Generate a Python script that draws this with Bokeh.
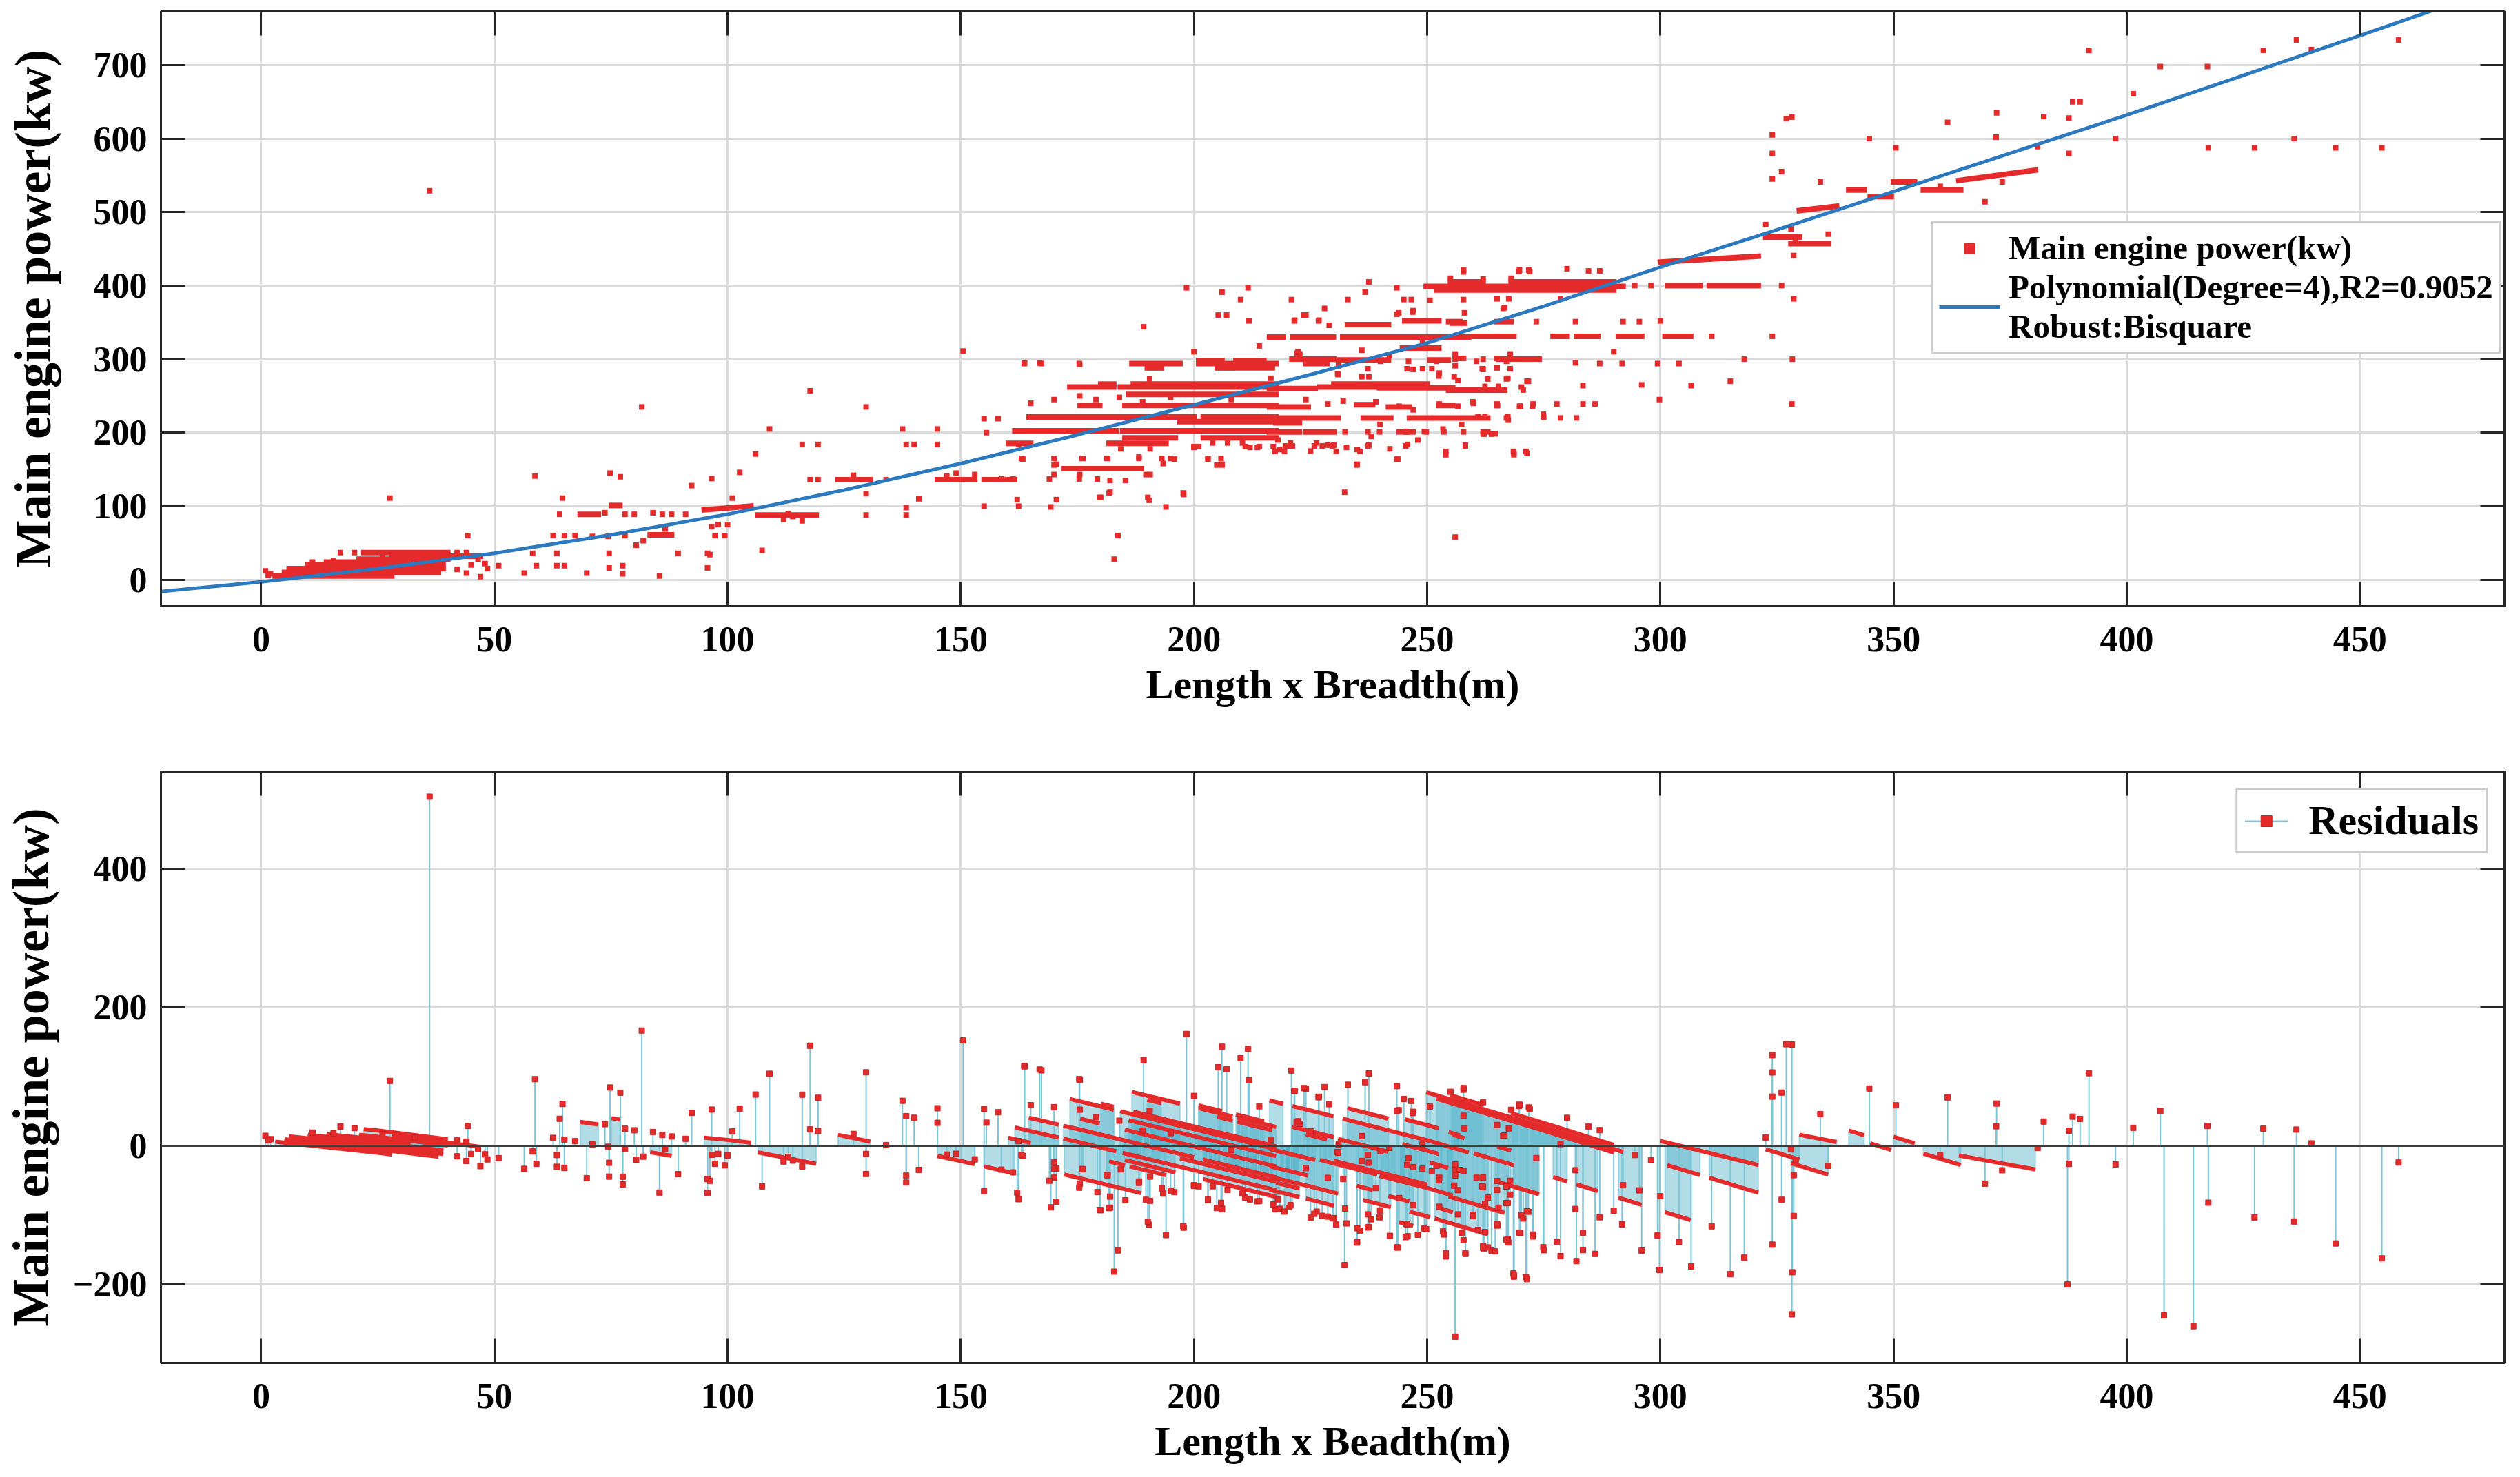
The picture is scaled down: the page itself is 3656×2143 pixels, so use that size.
import numpy as np
from bokeh.plotting import figure
from bokeh.models import (LinearAxis, Legend, LegendItem, Span, FixedTicker, Range1d,
                          CustomLabelingPolicy)
from bokeh.layouts import column
from bokeh.embed import file_html
from bokeh.resources import INLINE

# ---------------- data ----------------
x_ticks = [0, 50, 100, 150, 200, 250, 300, 350, 400, 450]
top_y_ticks = [0, 100, 200, 300, 400, 500, 600, 700]
bot_y_ticks = [-200, 0, 200, 400]

# robust polynomial fit curve
fit_x = [-21.5, 0, 25, 50, 75, 100, 125, 150, 175, 200, 225, 250, 275, 300, 325, 350, 375, 400, 425, 450, 475]
fit_y = [-16, -3, 15, 36, 61, 89, 122, 158, 197, 238, 279, 322, 372, 425, 476, 528, 580, 632, 686, 740, 795]

# individual points, by region
a_x = [0.9, 2.0, 27.6, 36.1, 44.3, 17.0, 20.0, 42.0, 44.0, 46.5, 45.0, 42.0, 44.0, 47.0, 48.5, 48.0, 1.5, 11, 15.5, 26, 33]
a_y = [12, 8, 111, 529, 60, 37, 37, 37, 37, 28, 20, 14, 9, 4, 15, 22, 6, 24, 26, 33, 34]

b_x = [50.9, 56.4, 58.2, 59, 63.4, 63.4, 65, 69.8, 74.6, 74.6, 77.5, 77.5, 85.4, 89.4, 95.7, 95.7,
       58.7, 64.6, 64, 73.7, 74.8, 77, 78, 80, 84, 86, 88, 91, 92.3, 96.6, 102.6, 101,
       62.6, 65, 67.3, 71, 74.4, 78, 86.6, 80.4, 81.9, 96.6, 98, 100, 97.3, 99.4, 106, 107.4, 81.6, 96.2]
b_y = [19, 9, 36, 19, 36, 19, 19, 9, 36, 16, 8, 19, 5, 36, 36, 16,
       141, 111, 89, 91, 145, 140, 89, 89, 91, 89, 89, 89, 128, 137.5, 146, 111,
       60, 60, 60, 59, 59, 60, 69, 47, 53, 72, 75, 75, 60, 60, 171, 40, 235, 34]

c_x = [109, 116, 119.4, 117.7, 117.7, 119.4, 129.7, 129.7, 129.7, 134, 137.5, 138.3, 140, 138.3, 138.3,
       141, 145, 145, 150.5, 155, 162.4, 155, 158, 155.5, 162.4, 112, 114, 116, 113, 147, 149, 153, 127]
c_y = [205, 184, 184, 257, 136, 136, 235, 117, 88, 136, 205, 184, 184, 98, 88,
       110, 184, 205, 311, 100, 100, 219, 219, 200, 184, 82, 86, 80, 90, 141, 145, 143, 142]

d_x = [257.8, 255, 262, 268, 237.5, 236.7, 243.5, 198.4, 206, 211.6,
       210, 220.9, 228, 233, 245, 246.6, 250.6, 205.2, 207, 211.8,
       221.5, 224, 226.7, 229, 243.9, 247, 189.2, 163.7, 166.9, 175.5,
       225, 231, 240, 246, 247, 252, 256, 262, 267, 190.5,
       216.5, 230.8, 255.8, 256.6, 163.3, 170.5, 176, 181.5, 188.2, 193.4,
       195.8, 203, 206, 235, 243.5, 254, 268.6, 175.5, 182, 185.3,
       190.6, 169.3, 182, 180, 190.4, 194, 197.8, 232.3, 183.7, 182.9,
       212, 218, 225, 230, 238, 242, 248, 165, 170, 200,
       214, 222, 236, 249, 195, 208, 232]
d_y = [418.6, 410, 409, 410, 405, 391, 397, 397, 391, 397,
       381, 381, 369, 381, 381, 381, 380, 360, 360, 352,
       352, 360, 352, 346, 363, 366, 344, 294.6, 294.6, 293,
       300, 291, 297, 297, 286, 297, 300, 286, 297, 273,
       274, 280, 276, 271, 164, 157, 165, 165, 167, 158,
       164, 164, 157, 157, 164, 170, 170, 143, 135, 135,
       143, 99, 119, 112, 108, 99, 116, 119, 60, 28,
       180, 190, 175, 183, 195, 178, 190, 240, 245, 310,
       318, 308, 312, 322, 248, 245, 243]

g_x = [222.7, 241.9, 260.6, 251, 263, 267, 237.5, 252.6,
       239, 244, 252.6, 256.6, 259.8, 265, 228.7, 224, 247,
       239.9, 245.5, 249.4, 253.4, 257.4, 262.2, 263.8, 267.4,
       200, 204, 207.2, 210.4, 213.6, 218.4, 220.7, 226.3, 228.7, 232.7, 235, 237.5, 245.8,
       175.5, 179, 184, 189]
g_y = [307, 305, 297, 287, 273, 273, 276, 281,
       242, 236, 239, 236, 242, 237, 239, 245, 231,
       211, 201.5, 201.5, 205, 211, 198, 198, 217,
       180, 186, 186, 186, 180, 177, 186, 186, 183, 180, 177, 183, 184,
       250, 245, 248, 242]

h_x = [223.6, 221.6, 226.8, 243.5, 246.9, 258, 266.3, 269.7, 272,
       222.3, 237.3, 245.7, 249, 261.9, 267.8, 230.9, 236, 252.5, 267.3,
       243.7, 234.9, 235.6, 254, 268.5, 271.2, 217.4, 219.4, 230.5,
       225.8, 227.5, 229.7, 237.3, 245.4, 258.2,
       232.4, 237.3, 239.8, 245.7, 249.8, 253.6, 257.8, 262, 263,
       260.9, 262.4, 267.3, 274.9,
       259.9, 265.1, 270, 272.7,
       262.4, 265.3, 270.2, 271.7,
       256, 257, 262]
h_y = [360, 353, 353, 361, 364, 363, 369, 419, 419,
       310, 287, 287, 287, 287, 287, 279, 276, 277, 274,
       164, 156, 174.6, 174.6, 174.6, 174.6, 174.6, 174.6, 174.6,
       182, 182, 182, 182, 182, 182,
       201, 201, 201, 201, 201, 201, 201, 201, 201,
       222, 222, 222, 225,
       240, 237, 236, 239,
       263, 263, 262, 270,
       291, 301, 300]

k_x = [163, 170, 176.2, 181.3, 188.2, 193.1, 195, 203, 205.8,
       170, 204.9, 206, 170, 189.7,
       158.7, 161.2, 169, 175.4, 179.3,
       181.8, 197.7, 179.8, 190.1, 162.1, 170.5,
       184.3, 190.6, 200, 201, 211, 214, 217,
       163.6, 167.3, 175.4]
k_y = [165, 165, 165, 165, 165, 165, 165, 165, 165,
       156, 156, 156, 143, 143,
       137, 137, 137, 137, 137,
       118, 118, 112, 112, 109, 109,
       178, 178, 181, 181, 181, 181, 181,
       294, 294, 294]

e_x = [257.8, 269.8, 271.8, 280, 284.6, 287, 326, 328.6, 257.8, 265,
       267.5, 266.6, 278.6, 273.4, 281.8, 292, 295.5, 300, 256, 257.8,
       265, 267.8, 261.8, 265, 281.8, 287, 291.8, 299.4, 304, 328.3,
       271.4, 270.6, 283.4, 306.6, 299.8, 283.4, 286, 277.8, 265, 269.8,
       272.6, 267, 275, 278.6, 282, 262, 264.6, 258.2, 268.6, 271.4,
       256, 294.5, 298, 322.6, 328.6, 328.2, 328.2, 324, 327, 324,
       324, 326, 328, 329, 324, 311, 318, 315, 290, 296]
e_y = [421, 421, 421, 423, 420, 420, 400, 382, 381, 382,
       382, 370, 382, 351, 351, 351, 351, 352, 307, 301,
       301, 307, 287, 288, 295, 294, 294, 294, 294, 300,
       270, 258, 264, 264, 245, 239, 239, 239, 239, 236,
       236, 220, 221, 220, 220, 198.5, 198.5, 183, 172, 172,
       58, 400, 400, 483, 441, 629, 239, 605, 627, 580,
       545, 555, 477, 464, 331, 331, 300, 270, 310, 265]

f_x = [334.3, 344.8, 350.5, 361.6, 372.1, 372, 373.3, 369.6, 380.9, 382.2,
       387.6, 387.6, 388.4, 390, 391.9, 397.6, 401.4, 407.2, 417.3, 417.5,
       427.4, 429.3, 435.9, 436.4, 439.6, 444.8, 454.7, 458.3, 387.3, 408,
       414.3, 336, 360]
f_y = [541, 600, 587.5, 622, 635, 602, 541, 514, 589, 630,
       628, 580, 650, 650, 720, 600, 661, 698, 698, 587.5,
       587.5, 720, 600, 734, 721, 587.5, 587.5, 734, 405, 404,
       402, 470, 535]

# runs of points that merge into streaks (start x, end x, start y, end y)
low_x0 = [3, 5, 6, 10, 14, 21, 22, 28]
low_x1 = [28, 38, 39, 39, 32, 40, 40, 47]
low_y = [5, 10, 15, 20, 24, 28, 37, 32]

mid_x0 = [68.4, 75.1, 83.4, 95, 106.5, 123.7, 145, 155]
mid_x1 = [72.3, 76.9, 88, 105, 119, 130.6, 153, 161.5]
mid_y0 = [89, 101, 61, 95, 88, 136, 136, 136]
mid_y1 = [89, 101, 61, 100, 88, 136, 136, 136]

g1_x0 = [186.7, 201, 209.3, 201, 209, 190, 205, 209.3, 173.4, 184.2, 180, 187, 186,
         175.6, 185.2, 164.6, 172, 202, 197, 161.6, 172, 184.7, 185.2, 202, 160.2, 181.8, 186.2, 172.2]
g1_x1 = [197, 208.3, 217.6, 206, 215, 193, 208.3, 216.8, 182.8, 217.6, 182.8, 217.6, 217.6,
         179.8, 217.6, 171, 200, 217.6, 217.6, 171, 183.3, 217.6, 196, 217.6, 165, 185.2, 194, 188.7]
g1_y = [294, 294, 294, 298, 298, 288, 288, 288, 262, 262, 266, 266, 252,
        237, 237, 221.3, 221.3, 221.3, 215, 202.6, 202.6, 202.6, 193, 193, 185.5, 185.5, 185.5, 151]

g2_x0 = [249.8, 252, 255, 268, 232.9, 245.2, 255.5, 216.2, 221.1, 231.9, 260, 244.7,
         221, 230.9, 250.6, 265.3, 224, 216.2, 227, 239.8, 230, 254.6,
         216.2, 234.9, 241.7, 252.5, 216.2, 217.6, 236.3, 246.2, 251.6, 216.2, 224, 244, 219.6]
g2_x1 = [292, 290, 262, 290, 241.7, 252.5, 258, 219.1, 229.9, 258.9, 268.6, 252.5,
         230, 241.7, 254.5, 273.7, 228.5, 226, 239.3, 255.5, 250, 266.6,
         224.5, 238.3, 246.2, 255.5, 230.9, 222.6, 242.2, 250.6, 263, 222.6, 230, 247, 221.1]
g2_y = [399, 394, 405, 405, 347, 352, 349, 330, 330, 330, 331, 315,
        300, 299, 299, 300, 294, 260, 262, 261, 266, 258,
        235, 238, 235, 237, 220, 213.4, 220, 220, 220, 201, 201, 201, 182]

g3_x0 = [277, 282, 291, 301, 254.6, 265, 268.6, 301.5, 310.5]
g3_x1 = [280, 286.6, 296, 306.5, 257, 268, 274, 308.5, 321]
g3_y = [331, 331, 331, 331, 351, 351, 300, 400, 400]

up_x0 = [300, 322.6, 328, 329.8, 340.4, 345, 350, 356.4, 364]
up_x1 = [321, 329.8, 336, 337.8, 343.7, 349.5, 354.5, 364.4, 380.4]
up_y0 = [432, 466, 457, 502, 530, 521, 541, 530, 543]
up_y1 = [440, 466, 457, 508, 530, 521, 541, 530, 557]

# ---------------- helpers ----------------
power_x = np.array(a_x + b_x + c_x + d_x + g_x + h_x + k_x + e_x + f_x, dtype=float)
power_y = np.array(a_y + b_y + c_y + d_y + g_y + h_y + k_y + e_y + f_y, dtype=float)

streak_x0 = low_x0 + mid_x0 + g1_x0 + g2_x0 + g3_x0 + up_x0
streak_x1 = low_x1 + mid_x1 + g1_x1 + g2_x1 + g3_x1 + up_x1
streak_y0 = low_y + mid_y0 + g1_y + g2_y + g3_y + up_y0
streak_y1 = low_y + mid_y1 + g1_y + g2_y + g3_y + up_y1


def fit_at(x):
    return np.interp(x, fit_x, fit_y)


FONT = "Liberation Serif"
RED = "#E42A2A"
DOTLINE = "#C42323"
BLUE = "#2C79BF"
STEM = "#7CC6D8"
FILL = "#55B3C9"
DARK = "#262626"
GRID = "#DADADA"
X_RANGE = (-21.5, 481)


def style_axis(ax, ticks, labels=True, horizontal=True):
    ax.ticker = FixedTicker(ticks=ticks)
    ax.major_tick_in = 35
    ax.major_tick_out = 0
    ax.minor_tick_line_color = None
    ax.major_tick_line_color = DARK
    ax.major_tick_line_width = 3
    ax.axis_line_color = DARK
    ax.axis_line_width = 3
    ax.major_label_text_font = FONT
    ax.major_label_text_font_style = "bold"
    ax.major_label_text_color = "black"
    if labels:
        ax.major_label_text_font_size = "52px"
        ax.major_label_standoff = 30 if horizontal else 20
    else:
        ax.major_label_text_font_size = "2px"
        ax.major_label_standoff = 0
        ax.major_label_text_color = None
        ax.major_label_policy = CustomLabelingPolicy(code="return []")
    ax.axis_label_text_font = FONT
    ax.axis_label_text_font_style = "bold"
    ax.axis_label_text_color = "black"


def make_fig(height, yr, yticks, xlabel, top_border, bottom_border, ylab_standoff):
    p = figure(width=3656, height=height, x_range=Range1d(*X_RANGE), y_range=Range1d(*yr),
               output_backend="svg", toolbar_location=None,
               min_border_left=226, min_border_right=23,
               min_border_top=top_border, min_border_bottom=bottom_border)
    p.background_fill_color = "white"
    p.border_fill_color = "white"
    p.outline_line_color = DARK
    p.outline_line_width = 3
    style_axis(p.xaxis[0], x_ticks)
    style_axis(p.yaxis[0], yticks, horizontal=False)
    p.xaxis[0].axis_label = xlabel
    p.xaxis[0].axis_label_text_font_size = "60px"
    p.xaxis[0].axis_label_standoff = 12
    p.yaxis[0].axis_label = "Main engine power(kw)"
    p.yaxis[0].axis_label_text_font_size = "74px"
    p.yaxis[0].axis_label_standoff = ylab_standoff
    top = LinearAxis()
    style_axis(top, x_ticks, labels=False)
    p.add_layout(top, "above")
    right = LinearAxis()
    style_axis(right, yticks, labels=False)
    p.add_layout(right, "right")
    p.xgrid.ticker = FixedTicker(ticks=x_ticks)
    p.ygrid.ticker = FixedTicker(ticks=yticks)
    for g in (p.xgrid[0], p.ygrid[0]):
        g.grid_line_color = GRID
        g.grid_line_width = 3
    return p


# ---------------- top panel ----------------
p1 = make_fig(1100, (-36, 773), top_y_ticks, "Length x Breadth(m)", 16, 221, 44)
p1.segment(x0=streak_x0, y0=streak_y0, x1=streak_x1, y1=streak_y1,
           line_color=RED, line_width=8, line_cap="square")
pts = p1.scatter(power_x, power_y, marker="square", size=8, fill_color=RED, line_color=None)
fit_r = p1.line(fit_x, fit_y, line_color=BLUE, line_width=5)

leg1 = Legend(items=[LegendItem(label="Main engine power(kw)", renderers=[pts]),
                     LegendItem(label="Polynomial(Degree=4),R2=0.9052\nRobust:Bisquare", renderers=[fit_r])],
              location=(2569, 366))
leg1.label_text_font = FONT
leg1.label_text_font_style = "bold"
leg1.label_text_font_size = "49px"
leg1.label_text_color = "black"
leg1.label_text_line_height = 1.15
leg1.label_width = 700
leg1.glyph_width = 89
leg1.glyph_height = 40
leg1.label_standoff = 12
leg1.padding = 8
leg1.spacing = 0
leg1.margin = 0
leg1.border_line_color = "#9A9A9A"
leg1.border_line_width = 3
leg1.background_fill_color = "white"
leg1.background_fill_alpha = 1.0
p1.add_layout(leg1)

# ---------------- bottom panel (residuals) ----------------
p2 = make_fig(1043, (-314, 541), bot_y_ticks, "Length x Beadth(m)", 19, 166, 17)

res = power_y - fit_at(power_x)

band_xs, band_ys, line_xs, line_ys = [], [], [], []
for x0, x1, y0, y1 in zip(streak_x0, streak_x1, streak_y0, streak_y1):
    xs = [x0] + [k for k in fit_x if x0 < k < x1] + [x1]
    ys = [y0 + (y1 - y0) * (x - x0) / (x1 - x0) for x in xs]
    rs = [float(y - fit_at(x)) for x, y in zip(xs, ys)]
    band_xs.append(xs + [x1, x0])
    band_ys.append(rs + [0.0, 0.0])
    line_xs.append(xs)
    line_ys.append(rs)

p2.patches(band_xs, band_ys, fill_color=FILL, fill_alpha=0.45, line_color=STEM, line_alpha=0.6, line_width=2)
stems = p2.segment(x0=power_x, y0=np.zeros_like(power_x), x1=power_x, y1=res,
                   line_color=STEM, line_width=2)
p2.multi_line(line_xs, line_ys, line_color=RED, line_width=6)
dots = p2.scatter(power_x, res, marker="square", size=8, fill_color=RED, line_color=DOTLINE, line_width=1)
p2.add_layout(Span(location=0, dimension="width", line_color="#3C3C3C", line_width=3))

leg2 = Legend(items=[LegendItem(label="Residuals", renderers=[stems, dots])], location="top_right")
leg2.label_text_font = FONT
leg2.label_text_font_style = "bold"
leg2.label_text_font_size = "60px"
leg2.label_text_color = "black"
leg2.glyph_width = 63
leg2.glyph_height = 40
leg2.label_standoff = 30
leg2.padding = 10
leg2.margin = 24
leg2.border_line_color = "#9A9A9A"
leg2.border_line_width = 3
leg2.background_fill_color = "white"
leg2.background_fill_alpha = 1.0
p2.add_layout(leg2)

layout = column(p1, p2)
open("out.html", "w").write(file_html(layout, INLINE))
